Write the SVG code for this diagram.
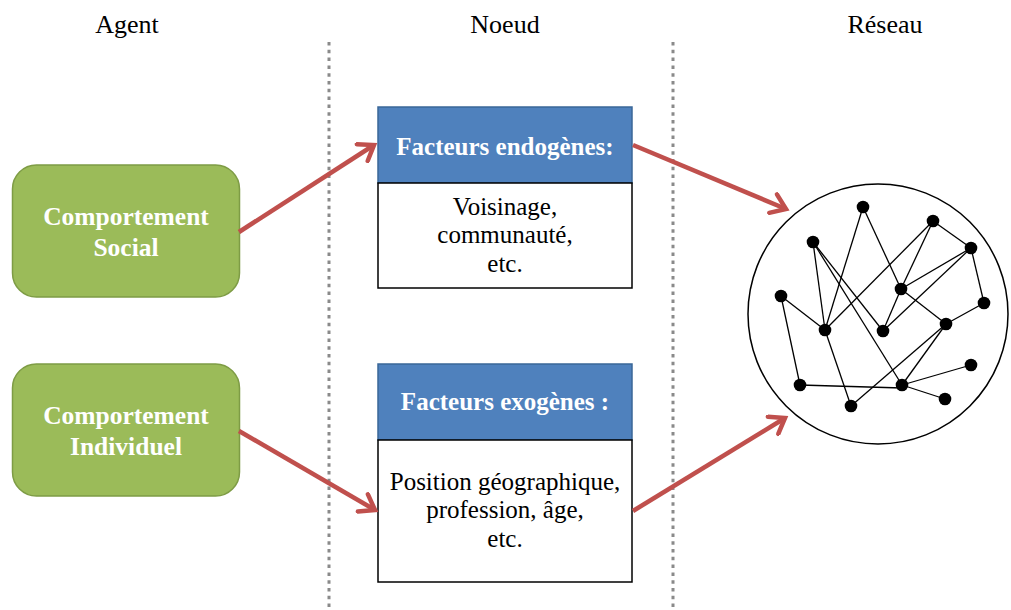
<svg xmlns="http://www.w3.org/2000/svg" width="1011" height="610" viewBox="0 0 1011 610">
<style>
.hdr{font-family:"Liberation Serif",serif;font-size:26px;fill:#000;text-anchor:middle}
.gtxt{font-family:"Liberation Serif",serif;font-size:25.5px;font-weight:bold;fill:#fff;text-anchor:middle}
.btxt{font-family:"Liberation Serif",serif;font-size:25px;font-weight:bold;fill:#fff;text-anchor:middle}
.body{font-family:"Liberation Serif",serif;font-size:25px;fill:#000;text-anchor:middle}
.green{fill:#9BBB59;stroke:#7E9C45;stroke-width:1.5}
.blue{fill:#4F81BD;stroke:#3A6798;stroke-width:1.5}
.white{fill:#fff;stroke:#000;stroke-width:1.5}
.sep{stroke:#8A8A8A;stroke-width:3;stroke-dasharray:3.5 4.3;fill:none}
.conn{stroke:#C0504D;stroke-width:4.5;fill:none;marker-end:url(#arr)}
.edge{stroke:#000;stroke-width:1.3}
.dot{fill:#000}
</style>
<defs>
<marker id="arr" markerUnits="userSpaceOnUse" viewBox="-18 -12 22 24" refX="0" refY="0" markerWidth="22" markerHeight="24" orient="auto">
<path d="M-14,-10 L0,0 L-14,10" fill="none" stroke="#C0504D" stroke-width="4.5" stroke-linecap="round" stroke-linejoin="miter"/>
</marker>
</defs>
<g id="labels">
<text class="hdr" x="127" y="33">Agent</text>
<text class="hdr" x="505" y="33">Noeud</text>
<text class="hdr" x="885" y="33">Réseau</text>
</g>
<g id="separators">
<line class="sep" x1="329" y1="42" x2="329" y2="610"/>
<line class="sep" x1="673" y1="42" x2="673" y2="610"/>
</g>
<g id="social">
<rect class="green" x="12.5" y="165" width="227" height="132" rx="24"/>
<text class="gtxt" x="126" y="225">Comportement</text>
<text class="gtxt" x="126" y="256">Social</text>
</g>
<g id="individuel">
<rect class="green" x="12.5" y="364" width="227" height="132" rx="24"/>
<text class="gtxt" x="126" y="424">Comportement</text>
<text class="gtxt" x="126" y="455">Individuel</text>
</g>
<g id="endogenes">
<rect class="blue" x="378" y="107" width="254" height="76"/>
<rect class="white" x="378" y="183" width="254" height="105"/>
<text class="btxt" x="505" y="155">Facteurs endogènes:</text>
<text class="body" x="505" y="215">Voisinage,</text>
<text class="body" x="505" y="243">communauté,</text>
<text class="body" x="505" y="272">etc.</text>
</g>
<g id="exogenes">
<rect class="blue" x="378" y="364" width="254" height="76"/>
<rect class="white" x="378" y="440" width="254" height="142"/>
<text class="btxt" x="505" y="410">Facteurs exogènes :</text>
<text class="body" x="505" y="490">Position géographique,</text>
<text class="body" x="505" y="518">profession, âge,</text>
<text class="body" x="505" y="547">etc.</text>
</g>
<g id="reseau">
<circle cx="878" cy="314" r="130" fill="#fff" stroke="#000" stroke-width="1.5"/>
<g id="reseau-edges">
<line class="edge" x1="863" y1="207" x2="825" y2="330"/>
<line class="edge" x1="863" y1="207" x2="901" y2="289"/>
<line class="edge" x1="933" y1="221" x2="825" y2="330"/>
<line class="edge" x1="933" y1="221" x2="901" y2="289"/>
<line class="edge" x1="933" y1="221" x2="971" y2="248"/>
<line class="edge" x1="971" y1="248" x2="901" y2="289"/>
<line class="edge" x1="971" y1="248" x2="883" y2="331"/>
<line class="edge" x1="971" y1="248" x2="984" y2="303"/>
<line class="edge" x1="813" y1="242" x2="825" y2="330"/>
<line class="edge" x1="813" y1="242" x2="883" y2="331"/>
<line class="edge" x1="813" y1="242" x2="902" y2="385"/>
<line class="edge" x1="901" y1="289" x2="883" y2="331"/>
<line class="edge" x1="901" y1="289" x2="946" y2="324"/>
<line class="edge" x1="946" y1="324" x2="984" y2="303"/>
<line class="edge" x1="946" y1="324" x2="851" y2="406"/>
<line class="edge" x1="946" y1="324" x2="902" y2="385"/>
<line class="edge" x1="781" y1="296" x2="825" y2="330"/>
<line class="edge" x1="781" y1="296" x2="800" y2="385"/>
<line class="edge" x1="825" y1="330" x2="851" y2="406"/>
<line class="edge" x1="800" y1="385" x2="902" y2="388"/>
<line class="edge" x1="902" y1="385" x2="971" y2="365"/>
<line class="edge" x1="902" y1="385" x2="945" y2="399"/>
</g>
<g id="reseau-nodes">
<circle class="dot" cx="863" cy="207" r="6.3"/>
<circle class="dot" cx="933" cy="221" r="6.3"/>
<circle class="dot" cx="813" cy="242" r="6.3"/>
<circle class="dot" cx="971" cy="248" r="6.3"/>
<circle class="dot" cx="901" cy="289" r="6.3"/>
<circle class="dot" cx="781" cy="296" r="6.3"/>
<circle class="dot" cx="984" cy="303" r="6.3"/>
<circle class="dot" cx="825" cy="330" r="6.3"/>
<circle class="dot" cx="883" cy="331" r="6.3"/>
<circle class="dot" cx="946" cy="324" r="6.3"/>
<circle class="dot" cx="971" cy="365" r="6.3"/>
<circle class="dot" cx="800" cy="385" r="6.3"/>
<circle class="dot" cx="902" cy="385" r="6.3"/>
<circle class="dot" cx="945" cy="399" r="6.3"/>
<circle class="dot" cx="851" cy="406" r="6.3"/>
</g>
</g>
<g id="connectors">
<line class="conn" x1="239" y1="232" x2="374" y2="145"/>
<line class="conn" x1="633" y1="145" x2="786" y2="209"/>
<line class="conn" x1="239" y1="431" x2="375" y2="510"/>
<line class="conn" x1="633" y1="511" x2="785" y2="418"/>
</g>
</svg>
